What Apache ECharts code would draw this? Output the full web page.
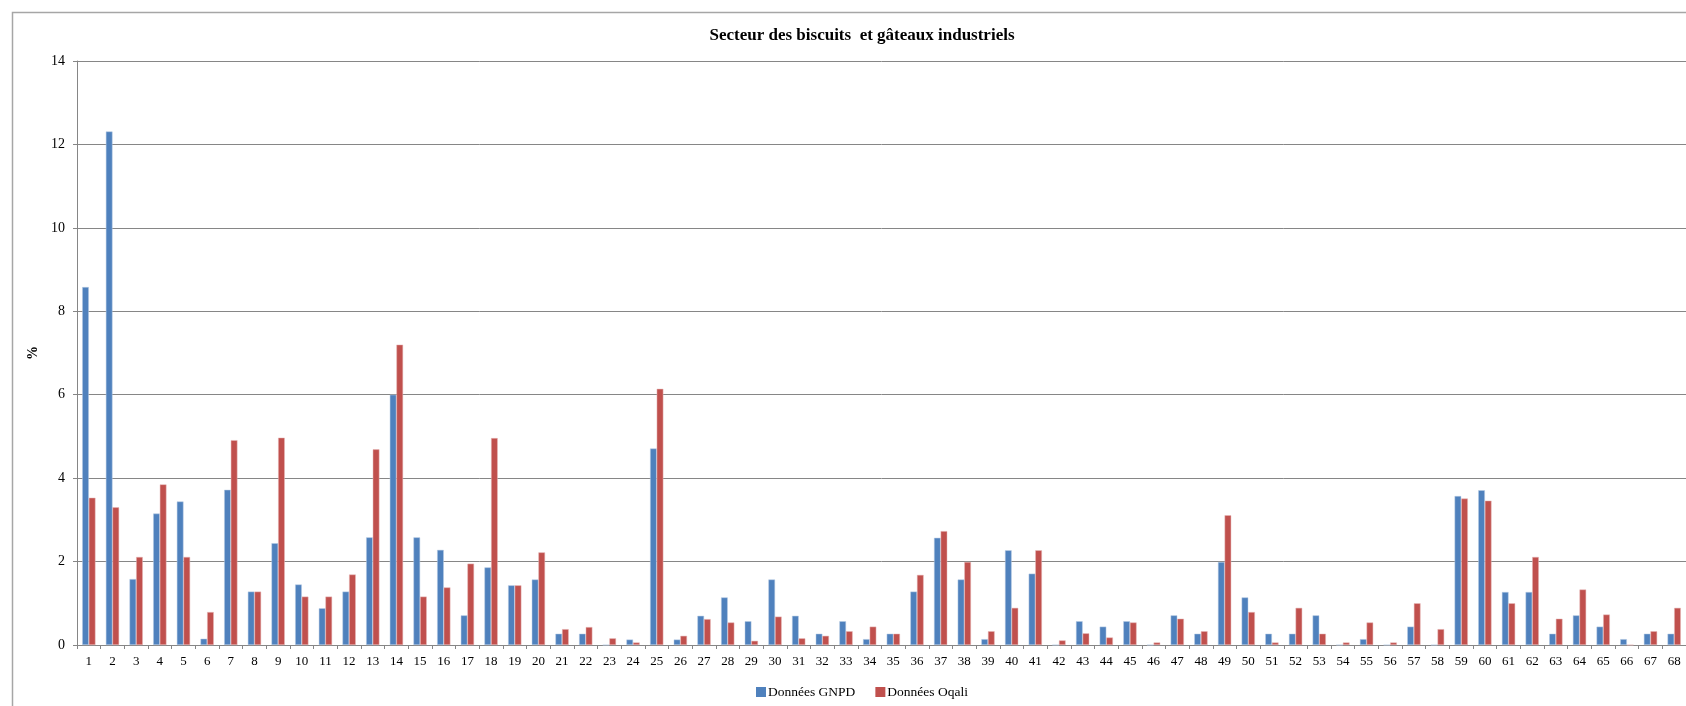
<!DOCTYPE html>
<html>
<head>
<meta charset="utf-8">
<script src="https://cdn.jsdelivr.net/npm/echarts@6/dist/echarts.min.js"></script>
<style>
html,body{margin:0;padding:0;background:#fff;}
#chart{width:1686px;height:706px;}
</style>
</head>
<body>
<div id="chart"></div>
<script>
var categories = [];
for (var i = 1; i <= 68; i++) categories.push(String(i));

var gnpd = [8.58,12.31,1.58,3.15,3.44,0.15,3.72,1.28,2.44,1.45,
            0.88,1.28,2.58,6.0,2.58,2.28,0.71,1.86,1.43,1.57,
            0.27,0.27,0,0.13,4.71,0.13,0.70,1.14,0.57,1.57,
            0.70,0.27,0.57,0.14,0.27,1.28,2.57,1.57,0.14,2.27,
            1.71,0,0.57,0.44,0.57,0,0.71,0.27,1.99,1.14,
            0.27,0.27,0.71,0,0.14,0,0.44,0,3.57,3.71,
            1.27,1.27,0.27,0.71,0.44,0.14,0.27,0.27];

var oqali = [3.53,3.30,2.11,3.85,2.11,0.79,4.91,1.28,4.97,1.16,
             1.16,1.69,4.69,7.20,1.16,1.38,1.95,4.96,1.43,2.22,
             0.38,0.43,0.16,0.06,6.14,0.22,0.62,0.54,0.10,0.68,
             0.16,0.22,0.33,0.44,0.27,1.68,2.73,1.99,0.33,0.89,
             2.27,0.11,0.28,0.18,0.54,0.06,0.63,0.33,3.11,0.79,
             0.06,0.89,0.27,0.06,0.54,0.06,1.00,0.38,3.51,3.46,
             1.00,2.11,0.63,1.33,0.73,0,0.33,0.89];

var yTicks = {min: 0, max: 14, interval: 2};

var chart = echarts.init(document.getElementById('chart'), null, {renderer: 'canvas'});
var serif = 'Liberation Serif';
chart.setOption({
  animation: false,
  backgroundColor: '#ffffff',
  graphic: [{
    type: 'rect',
    shape: {x: 12.5, y: 12.5, width: 2000, height: 1000},
    style: {fill: 'none', stroke: '#a6a6a6', lineWidth: 1.5},
    silent: true, z: -1
  }],
  title: {
    text: 'Secteur des biscuits  et gâteaux industriels',
    left: 857, top: 22, textAlign: 'center',
    textStyle: {fontFamily: serif, fontWeight: 'bold', fontSize: 17, color: '#000'}
  },
  legend: {
    data: ['Données GNPD', 'Données Oqali'],
    left: 751, top: 680,
    itemWidth: 10, itemHeight: 10, itemGap: 20,
    icon: 'rect',
    itemStyle: {borderWidth: 0},
    textStyle: {fontFamily: serif, fontSize: 13.5, color: '#000', padding: [0,0,0,-3]}
  },
  grid: {left: 77, top: 61, width: 1611.5, height: 584, containLabel: false},
  xAxis: {
    type: 'category',
    data: categories,
    axisLine: {lineStyle: {color: '#868686', width: 1}},
    axisTick: {show: true, length: 4, interval: 0, lineStyle: {color: '#868686'}},
    axisLabel: {interval: 0, margin: 10, fontFamily: serif, fontSize: 13, color: '#000'},
    splitLine: {show: false}
  },
  yAxis: {
    type: 'value',
    min: yTicks.min, max: yTicks.max, interval: yTicks.interval,
    name: '%', nameLocation: 'middle', nameGap: 33, nameRotate: 90,
    nameTextStyle: {fontFamily: serif, fontWeight: 'bold', fontSize: 14, color: '#000'},
    axisLine: {show: true, lineStyle: {color: '#868686', width: 1}},
    axisTick: {show: true, length: 4, lineStyle: {color: '#868686'}},
    axisLabel: {margin: 12, fontFamily: serif, fontSize: 14, color: '#000'},
    splitLine: {show: true, lineStyle: {color: '#868686', width: 1}}
  },
  series: [
    {name: 'Données GNPD', type: 'bar', data: gnpd, barGap: '0%', barCategoryGap: '44%',
     itemStyle: {color: '#4F81BD', borderColor: '#b9cde5', borderWidth: 0.5}},
    {name: 'Données Oqali', type: 'bar', data: oqali, barGap: '0%', barCategoryGap: '44%',
     itemStyle: {color: '#C0504D', borderColor: '#e6b9b8', borderWidth: 0.5}}
  ]
});
</script>
</body>
</html>
